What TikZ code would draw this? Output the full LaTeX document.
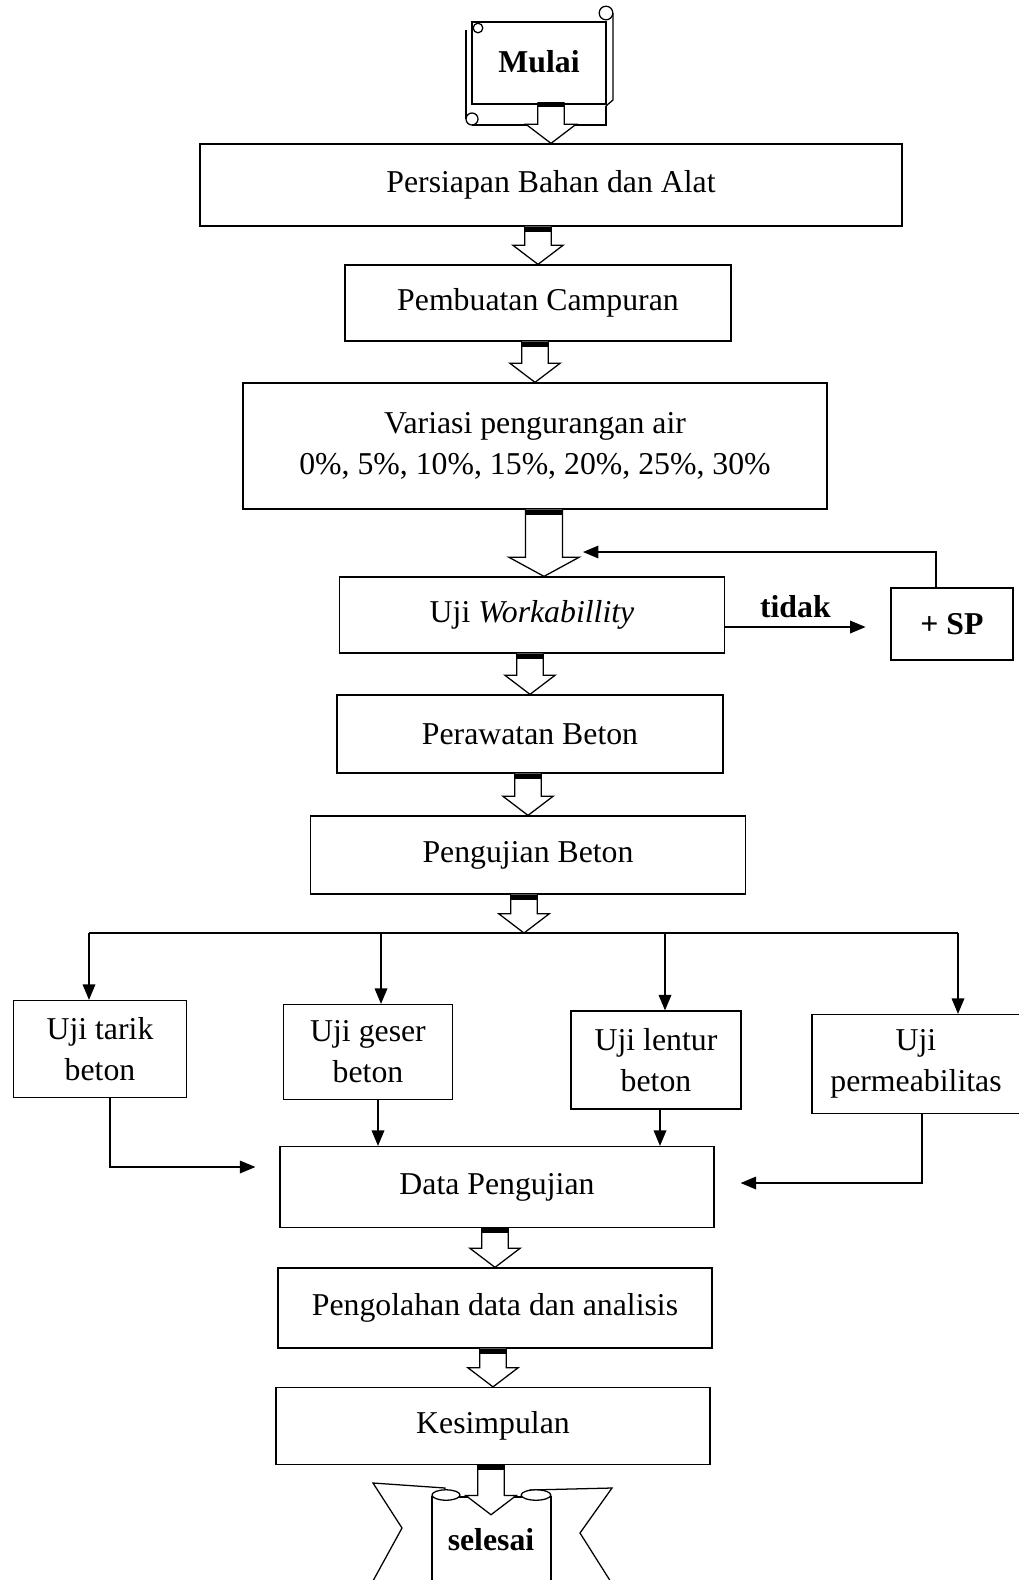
\documentclass[tikz,border=0pt]{standalone}
\usepackage{fontspec}
\setmainfont{Liberation Serif}
\usetikzlibrary{positioning,calc,arrows.meta}
\tikzset{
every node/.style={font=\fontsize{22.6}{29}\selectfont}, % ukuran huruf semua teks
ukuran/.style 2 args={minimum width=#1*0.025cm, minimum height=#2*0.025cm},
kotak/.style={draw, line width=0.9pt, align=center, inner sep=0pt},
garis/.style={line width=0.9pt},
panah/.style={garis, -{Triangle[length=11pt,width=9pt]}}, % panah garis tipis
blok/.style={garis, fill=white}}

% panah blok berongga dari #2 ke #3, #1 = faktor lebar
\newcommand{\blokpanah}[3][1]{%
\draw[blok] let \p1=(#2), \p2=(#3) in
  (\x2-#1*0.33cm,\y1) -- (\x2-#1*0.33cm,\y2+0.48cm) -- (\x2-#1*0.63cm,\y2+0.48cm) -- (\x2,\y2)
  -- (\x2+#1*0.63cm,\y2+0.48cm) -- (\x2+#1*0.33cm,\y2+0.48cm) -- (\x2+#1*0.33cm,\y1);
\fill let \p1=(#2), \p2=(#3) in (\x2-#1*0.33cm,\y1) rectangle (\x2+#1*0.33cm,\y1-0.13cm);}

\begin{document}
\begin{tikzpicture}[x=0.025cm, y=-0.025cm]
\useasboundingbox (0,0) rectangle (1019,1580);

% gulungan mulai
\draw[garis] (466,30) -- (466,119);
\draw[garis] (472,119) circle[radius=0.15cm];
\draw[garis] (472,125) -- (606,125) -- (606,106);
\draw[garis] (613,13) -- (613,100) -- (606,106);
\draw[garis] (606,13) circle[radius=0.17cm];
\draw[garis, fill=white] (472,22) rectangle (606,104);
\draw[garis] (478,28) circle[radius=0.12cm];
\node[ukuran={134}{80}] (mulai) at (539,62) {\textbf{Mulai}};

\node[kotak, ukuran={702}{82}] (persiapan) at (551,185) {Persiapan Bahan dan Alat};
\node[kotak, ukuran={386}{76}] (campuran) at (538,303) {Pembuatan Campuran};
\node[kotak, ukuran={584}{126}] (variasi) at (535,446) {Variasi pengurangan air\\0\%, 5\%, 10\%, 15\%, 20\%, 25\%, 30\%};
\node[kotak, ukuran={385}{76}] (work) at (532,615) {Uji \textit{Workabillity}};
\node[kotak, ukuran={122}{72}] (sp) at (952,624) {\textbf{+ SP}};
\node[kotak, ukuran={386}{78}] (rawat) at (530,734) {Perawatan Beton};
\node[kotak, ukuran={435}{78}] (uji) at (528,855) {Pengujian Beton};

\node[kotak, ukuran={173}{97}] (tarik) at (100,1049) {Uji tarik\\beton};
\node[kotak, ukuran={169}{95}] (geser) at (368,1052) {Uji geser\\beton};
\node[kotak, ukuran={170}{98}] (lentur) at (656,1060) {Uji lentur\\beton};
\node[kotak, ukuran={208}{99}] (perm) at (916,1064) {Uji\\permeabilitas};

\node[kotak, ukuran={434}{81}] (data) at (497,1187) {Data Pengujian};
\node[kotak, ukuran={434}{80}] (olah) at (495,1308) {Pengolahan data dan analisis};
\node[kotak, ukuran={434}{77}] (simpul) at (493,1426) {Kesimpulan};

% gulungan selesai
\draw[garis, fill=white] (445,1488) -- (373,1483) -- (402,1528) -- (368,1590) -- (445,1590) -- cycle;
\draw[garis, fill=white] (530,1490) -- (612,1488) -- (580,1533) -- (616,1590) -- (530,1590) -- cycle;
\draw[garis, fill=white] (432,1497) rectangle (551,1595);
\draw[garis, fill=white] (446,1495) ellipse[x radius=0.35cm, y radius=0.13cm];
\draw[garis, fill=white] (536,1495) ellipse[x radius=0.37cm, y radius=0.13cm];
\node[ukuran={119}{80}] (selesai) at (491,1540) {\textbf{selesai}};

% panah blok
\blokpanah{mulai.south}{persiapan.north}
\blokpanah{persiapan.south}{campuran.north}
\blokpanah{campuran.south}{variasi.north}
\blokpanah[1.4]{variasi.south}{[xshift=0.3cm]work.north}
\blokpanah{work.south}{rawat.north}
\blokpanah{rawat.south}{uji.north}
\coordinate (cabang) at (524,933);
\blokpanah{uji.south}{cabang}
\blokpanah{data.south}{olah.north}
\blokpanah{olah.south}{simpul.north}
\blokpanah{simpul.south}{[yshift=-0.375cm]selesai.north}

% tidak -> + SP dan kembali
\coordinate (tdk) at ([yshift=-0.3cm]work.east);
\draw[panah] (tdk) -- ([xshift=-0.62cm]tdk -| sp.west) node[midway, above=3pt]{\textbf{tidak}};
\coordinate (balik) at (583,552);
\draw[panah] ([xshift=-0.4cm]sp.north) |- (balik);

% cabang pengujian
\coordinate (c1) at (89,933);
\coordinate (c2) at (381,933);
\coordinate (c3) at (665,933);
\coordinate (c4) at (958,933);
\draw[garis] (c1) -- (c4);
\draw[panah] (c1) -- (c1 |- tarik.north);
\draw[panah] (c2) -- (c2 |- geser.north);
\draw[panah] (c3) -- (c3 |- lentur.north);
\draw[panah] (c4) -- (c4 |- perm.north);

% menuju data pengujian
\draw[panah] ([xshift=0.25cm]tarik.south) |- ([xshift=-0.6cm,yshift=0.5cm]data.west);
\draw[panah] ([xshift=0.25cm]geser.south) -- ([xshift=0.25cm]geser.south |- data.north);
\draw[panah] ([xshift=0.1cm]lentur.south) -- ([xshift=0.1cm]lentur.south |- data.north);
\draw[panah] ([xshift=0.15cm]perm.south) |- ([xshift=0.65cm,yshift=0.1cm]data.east);
\end{tikzpicture}
\end{document}
